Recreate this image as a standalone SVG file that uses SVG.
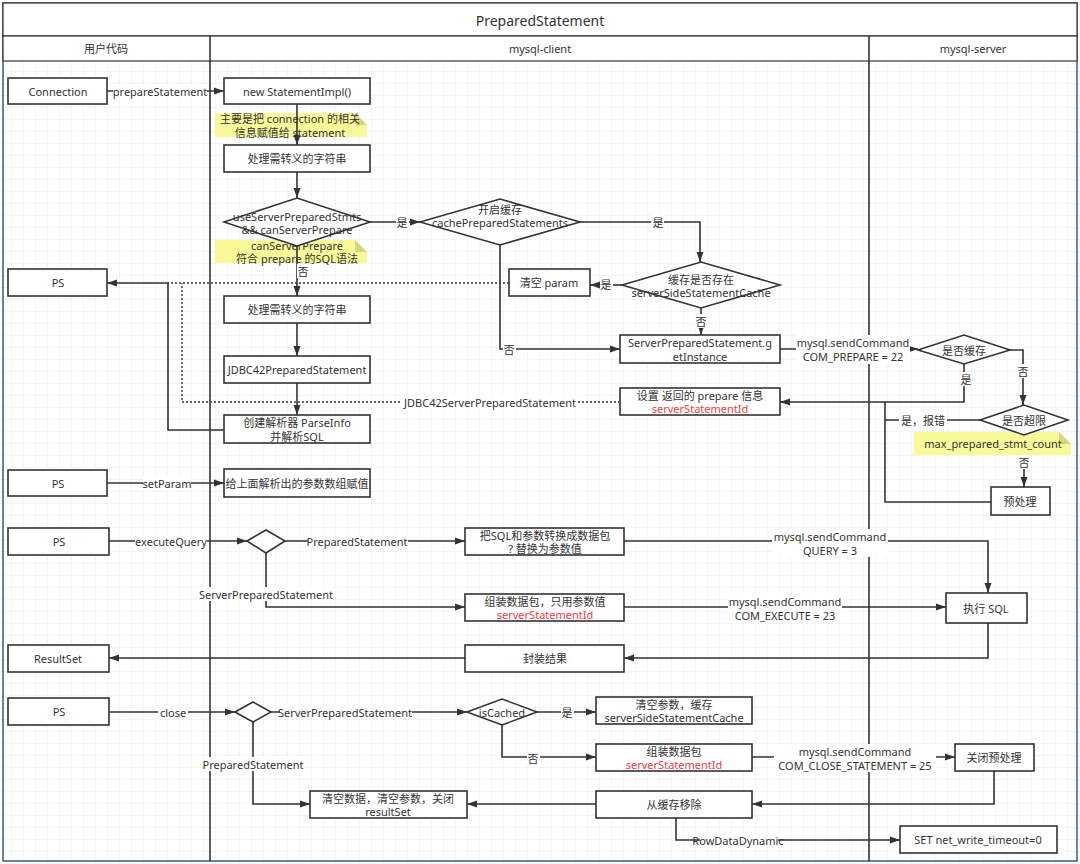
<svg xmlns="http://www.w3.org/2000/svg" width="1080" height="864" viewBox="0 0 1080 864">
<defs>
<pattern id="grid" width="12" height="12" patternUnits="userSpaceOnUse">
<path d="M12,0 V12 H0" fill="none" stroke="#ebebeb" stroke-width="1"/>
</pattern>
<marker id="arr" viewBox="0 0 10 10" refX="10" refY="5" markerWidth="10" markerHeight="10" markerUnits="userSpaceOnUse" orient="auto">
<path d="M0,1.5 L10,5 L0,8.5 z" fill="#333"/>
</marker>
<style>
text{font-family:"Noto Sans","Noto Sans CJK SC",sans-serif;font-size:11px;fill:#333;text-anchor:middle;dominant-baseline:central}
.box{fill:#fff;stroke:#333;stroke-width:1.6}
.dia{fill:#fff;stroke:#333;stroke-width:1.6}
.ln{fill:none;stroke:#333;stroke-width:1.6}
.arr{fill:none;stroke:#333;stroke-width:1.6;marker-end:url(#arr)}
.dot{fill:none;stroke:#333;stroke-width:1.4;stroke-dasharray:2 2}
.lb{fill:#fff;stroke:none}
.note{fill:#f9f99a;stroke:none}
.fold{fill:#d6d67a;stroke:none}
.red{fill:#f03c3c}
.title{font-size:14px}
</style>
</defs>
<rect x="0" y="0" width="1080" height="864" fill="#fff"/>
<rect x="0" y="0" width="1080" height="864" fill="url(#grid)"/>

<g id="pool">
<rect x="3" y="3" width="1074" height="858" fill="none" stroke="#3b5b7e" stroke-width="1.5"/>
<rect x="3" y="3" width="1074" height="33" fill="#fff" stroke="#333" stroke-width="1.2"/>
<text class="title" x="540" y="20">PreparedStatement</text>
<rect x="3" y="36" width="1074" height="25" fill="#fff" stroke="#333" stroke-width="1.2"/>
<line x1="210" y1="36" x2="210" y2="861" stroke="#333" stroke-width="1.6"/>
<line x1="869" y1="36" x2="869" y2="861" stroke="#333" stroke-width="1.6"/>
<text x="106" y="48">用户代码</text>
<text x="540" y="48">mysql-client</text>
<text x="973" y="48">mysql-server</text>
</g>

<g id="notes">
<g id="note1"><path class="note" d="M215,113 H355 L367,125 V137 H215 Z"/><path class="fold" d="M355,113 L367,125 H355 Z"/>
<text x="290" y="118">主要是把 connection 的相关</text><text x="290" y="132">信息赋值给 statement</text></g>
<g id="note2"><path class="note" d="M215,240 H355 L367,252 V263 H215 Z"/><path class="fold" d="M355,240 L367,252 H355 Z"/>
<text x="297" y="245">canServerPrepare</text><text x="297" y="258">符合 prepare 的SQL语法</text></g>
</g>

<g id="connectors">
<path class="arr" d="M107,91 H224"/>
<path class="arr" d="M297,104 V145"/>
<path class="arr" d="M297,172 V198"/>
<path class="arr" d="M370,222 H420"/>
<path class="arr" d="M580,222 H700 V262"/>
<path class="arr" d="M622,285 H590"/>
<path class="arr" d="M701,308 V335"/>
<path class="arr" d="M500,245 V349 H620"/>
<path class="arr" d="M297,246 V296"/>
<path class="arr" d="M297,323 V356"/>
<path class="arr" d="M297,383 V415"/>
<path class="dot" d="M509,283 H168"/>
<path class="dot" d="M620,402 H182 V283"/>
<path class="arr" d="M224,430 H168 V283 H107"/>
<path class="arr" d="M780,349 H918"/>
<path class="arr" d="M1010,350 H1023 V405"/>
<path class="arr" d="M964,364 V402 H780"/>
<path class="ln" d="M980,420 H885"/>
<path class="ln" d="M991,502 H885 V402"/>
<path class="arr" d="M1024,435 V487"/>
<path class="arr" d="M107,483 H224"/>
<path class="arr" d="M109,541 H247"/>
<path class="arr" d="M285,541 H465"/>
<path class="arr" d="M266,553 V607 H465"/>
<path class="arr" d="M624,541 H988 V593"/>
<path class="arr" d="M624,607 H946"/>
<path class="arr" d="M988,623 V658 H624"/>
<path class="arr" d="M465,658 H109"/>
<path class="arr" d="M109,712 H235"/>
<path class="arr" d="M271,712 H467"/>
<path class="arr" d="M537,712 H596"/>
<path class="arr" d="M502,725 V757 H596"/>
<path class="arr" d="M752,757 H955"/>
<path class="arr" d="M994,771 V804 H752"/>
<path class="arr" d="M596,804 H467"/>
<path class="arr" d="M253,722 V804 H310"/>
<path class="arr" d="M676,818 V840 H900"/>

<rect class="lb" x="113" y="85" width="94" height="13"/><text x="160" y="91">prepareStatement</text>
<rect class="lb" x="396" y="215" width="13" height="14"/><text x="402" y="222">是</text>
<rect class="lb" x="651" y="215" width="13" height="14"/><text x="658" y="222">是</text>
<rect class="lb" x="600" y="278" width="13" height="14"/><text x="606" y="284">是</text>
<rect class="lb" x="695" y="314" width="13" height="14"/><text x="701" y="321">否</text>
<rect class="lb" x="503" y="342" width="13" height="14"/><text x="509" y="349">否</text>
<rect class="lb" x="297" y="264" width="13" height="14"/><text x="303" y="271">否</text>
<rect class="lb" x="402" y="395" width="176" height="14"/><text x="490" y="402">JDBC42ServerPreparedStatement</text>
<rect class="lb" x="796" y="335" width="114" height="29"/><text x="853" y="342">mysql.sendCommand</text><text x="853" y="356">COM_PREPARE = 22</text>
<rect class="lb" x="1017" y="364" width="13" height="14"/><text x="1023" y="371">否</text>
<rect class="lb" x="960" y="372" width="13" height="14"/><text x="966" y="379">是</text>
<rect class="lb" x="899" y="413" width="48" height="14"/><text x="923" y="420">是，报错</text>
<rect class="lb" x="143" y="476" width="48" height="14"/><text x="167" y="483">setParam</text>
<rect class="lb" x="135" y="534" width="72" height="14"/><text x="171" y="541">executeQuery</text>
<rect class="lb" x="308" y="534" width="100" height="14"/><text x="357" y="541">PreparedStatement</text>
<rect class="lb" x="200" y="587" width="132" height="14"/><text x="266" y="594">ServerPreparedStatement</text>
<rect class="lb" x="772" y="529" width="116" height="28"/><text x="830" y="536">mysql.sendCommand</text><text x="830" y="550">QUERY = 3</text>
<rect class="lb" x="728" y="594" width="114" height="28"/><text x="785" y="601">mysql.sendCommand</text><text x="785" y="615">COM_EXECUTE = 23</text>
<rect class="lb" x="158" y="705" width="30" height="14"/><text x="173" y="712">close</text>
<rect class="lb" x="280" y="705" width="132" height="14"/><text x="345" y="712">ServerPreparedStatement</text>
<rect class="lb" x="561" y="705" width="13" height="14"/><text x="567" y="712">是</text>
<rect class="lb" x="527" y="750" width="13" height="14"/><text x="533" y="758">否</text>
<rect class="lb" x="774" y="744" width="162" height="28"/><text x="855" y="751">mysql.sendCommand</text><text x="855" y="765">COM_CLOSE_STATEMENT = 25</text>
<rect class="lb" x="204" y="757" width="100" height="14"/><text x="253" y="764">PreparedStatement</text>
<rect class="lb" x="700" y="833" width="78" height="14"/><text x="738" y="840">RowDataDynamic</text>
</g>

<g id="note3"><path class="note" d="M914,432 H1059 L1071,444 V455 H914 Z"/><path class="fold" d="M1059,432 L1071,444 H1059 Z"/>
<text x="993" y="443">max_prepared_stmt_count</text>
<rect class="lb" x="1018" y="455" width="13" height="14"/><text x="1024" y="462">否</text></g>

<g id="n-connection"><rect class="box" x="8" y="78" width="99" height="26"/><text x="58" y="91">Connection</text></g>
<g id="n-newStmt"><rect class="box" x="224" y="78" width="146" height="26"/><text x="297" y="91">new StatementImpl()</text></g>
<g id="n-escape1"><rect class="box" x="224" y="145" width="146" height="27"/><text x="297" y="158">处理需转义的字符串</text></g>
<g id="n-useServer"><path class="dia" d="M224,222 L297,198 L370,222 L297,246 Z"/><text x="297" y="216">useServerPreparedStmts</text><text x="297" y="229">&amp;&amp; canServerPrepare</text></g>
<g id="n-cacheOn"><path class="dia" d="M420,222 L500,199 L580,222 L500,245 Z"/><text x="500" y="209">开启缓存</text><text x="500" y="222">cachePreparedStatements</text></g>
<g id="n-cacheExists"><path class="dia" d="M622,285 L701,262 L780,285 L701,308 Z"/><text x="701" y="279">缓存是否存在</text><text x="701" y="292">serverSideStatementCache</text></g>
<g id="n-clearParam"><rect class="box" x="509" y="269" width="81" height="27"/><text x="549" y="282">清空 param</text></g>
<g id="n-ps1"><rect class="box" x="8" y="269" width="99" height="27"/><text x="58" y="282">PS</text></g>
<g id="n-escape2"><rect class="box" x="224" y="296" width="146" height="27"/><text x="297" y="309">处理需转义的字符串</text></g>
<g id="n-jdbc42"><rect class="box" x="224" y="356" width="146" height="27"/><text x="297" y="369">JDBC42PreparedStatement</text></g>
<g id="n-parser"><rect class="box" x="224" y="415" width="146" height="28"/><text x="297" y="422">创建解析器  ParseInfo</text><text x="297" y="436">并解析SQL</text></g>
<g id="n-spsGet"><rect class="box" x="620" y="335" width="160" height="28"/><text x="700" y="342">ServerPreparedStatement.g</text><text x="700" y="356">etInstance</text></g>
<g id="n-setInfo"><rect class="box" x="620" y="388" width="160" height="27"/><text x="700" y="395">设置 返回的 prepare 信息</text><text class="red" x="700" y="408">serverStatementId</text></g>
<g id="n-isCachedSrv"><path class="dia" d="M918,350 L964,335 L1010,350 L964,364 Z"/><text x="964" y="350">是否缓存</text></g>
<g id="n-overLimit"><path class="dia" d="M980,420 L1024,405 L1068,420 L1024,435 Z"/><text x="1024" y="420">是否超限</text></g>
<g id="n-prepare"><rect class="box" x="991" y="487" width="59" height="28"/><text x="1020" y="501">预处理</text></g>
<g id="n-ps2"><rect class="box" x="8" y="470" width="99" height="26"/><text x="58" y="483">PS</text></g>
<g id="n-setParamBox"><rect class="box" x="224" y="469" width="146" height="28"/><text x="297" y="483">给上面解析出的参数数组赋值</text></g>
<g id="n-ps3"><rect class="box" x="8" y="528" width="101" height="27"/><text x="59" y="541">PS</text></g>
<g id="n-execDia"><path class="dia" d="M247,541 L266,530 L285,541 L266,553 Z"/></g>
<g id="n-toPacket"><rect class="box" x="465" y="528" width="159" height="27"/><text x="545" y="535">把SQL和参数转换成数据包</text><text x="545" y="548">? 替换为参数值</text></g>
<g id="n-packet1"><rect class="box" x="465" y="594" width="159" height="27"/><text x="545" y="601">组装数据包，只用参数值</text><text class="red" x="545" y="614">serverStatementId</text></g>
<g id="n-execSql"><rect class="box" x="946" y="593" width="81" height="30"/><text x="986" y="608">执行 SQL</text></g>
<g id="n-wrap"><rect class="box" x="465" y="645" width="159" height="27"/><text x="545" y="658">封装结果</text></g>
<g id="n-resultSet"><rect class="box" x="8" y="645" width="101" height="27"/><text x="58" y="658">ResultSet</text></g>
<g id="n-ps4"><rect class="box" x="8" y="698" width="101" height="27"/><text x="59" y="711">PS</text></g>
<g id="n-closeDia"><path class="dia" d="M235,712 L253,702 L271,712 L253,722 Z"/></g>
<g id="n-isCached"><path class="dia" d="M467,712 L502,699 L537,712 L502,725 Z"/><text x="502" y="712">isCached</text></g>
<g id="n-clearCache"><rect class="box" x="596" y="697" width="156" height="27"/><text x="674" y="704">清空参数，缓存</text><text x="674" y="717">serverSideStatementCache</text></g>
<g id="n-packet2"><rect class="box" x="596" y="744" width="156" height="27"/><text x="674" y="751">组装数据包</text><text class="red" x="674" y="764">serverStatementId</text></g>
<g id="n-closePrep"><rect class="box" x="955" y="744" width="79" height="27"/><text x="994" y="757">关闭预处理</text></g>
<g id="n-removeCache"><rect class="box" x="596" y="791" width="156" height="27"/><text x="674" y="804">从缓存移除</text></g>
<g id="n-clearData"><rect class="box" x="310" y="791" width="157" height="27"/><text x="388" y="798">清空数据，清空参数，关闭</text><text x="388" y="811">resultSet</text></g>
<g id="n-setTimeout"><rect class="box" x="900" y="826" width="157" height="27"/><text x="978" y="839">SET net_write_timeout=0</text></g>
</svg>
